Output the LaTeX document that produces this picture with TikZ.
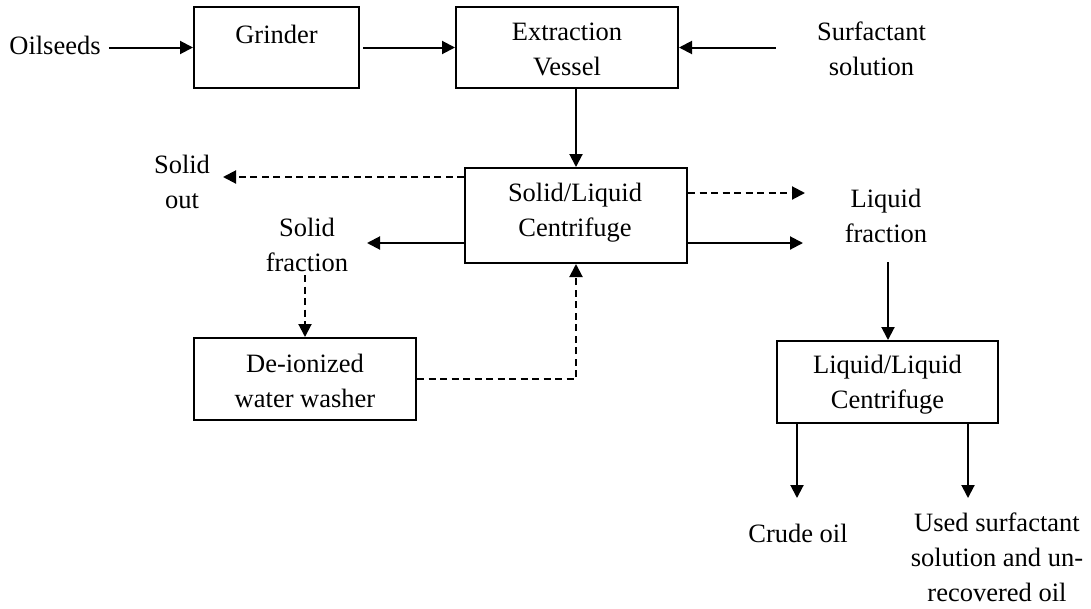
\documentclass[tikz,border=0pt]{standalone}
\usepackage{fontspec}
\setmainfont{Liberation Serif}
\usetikzlibrary{arrows.meta}
\begin{document}
\begin{tikzpicture}[x=1pt,y=-1pt,
  stepbox/.style={draw,line width=2pt,inner sep=0pt},
  lbl/.style={font=\fontsize{26.5}{35}\selectfont,align=center,inner sep=0pt},
  flow/.style={line width=2pt,-{Triangle[length=13pt,width=13pt]}},
  dflow/.style={flow,dash pattern=on 7pt off 4.5pt}]
\useasboundingbox (0,0) rectangle (1091,608);

% boxes
\node[stepbox,minimum width=165pt,minimum height=81pt] (grinder) at (276.5,47.5) {};
\node[lbl] (grinderT) at (276.5,34) {Grinder};
\node[stepbox,minimum width=222pt,minimum height=81pt] (ev) at (567,47.5) {};
\node[lbl] (evT) at (567,49.5) {Extraction\\Vessel};
\node[stepbox,minimum width=222pt,minimum height=95pt] (slc) at (576,215.5) {};
\node[lbl] (slcT) at (575,213) {Solid/Liquid\\Centrifuge};
\node[stepbox,minimum width=222pt,minimum height=82pt] (diw) at (305,379) {};
\node[lbl] (diwT) at (305,381) {De-ionized\\water washer};
\node[stepbox,minimum width=221pt,minimum height=82pt] (llc) at (887.5,382) {};
\node[lbl] (llcT) at (887.5,385) {Liquid/Liquid\\Centrifuge};

% free labels
\node[lbl] (oil) at (55,45) {Oilseeds};
\node[lbl] (surf) at (871.5,48.5) {Surfactant\\solution};
\node[lbl] (solidout) at (182,182) {Solid\\out};
\node[lbl] (solidfrac) at (307,245) {Solid\\fraction};
\node[lbl] (liqfrac) at (886,215.5) {Liquid\\fraction};
\node[lbl] (crude) at (798,533) {Crude oil};
\node[lbl] (used) at (997,557) {Used surfactant\\solution and un-\\recovered oil};

% free arrow ends
\coordinate (soEnd) at (223,177);
\coordinate (sfEnd) at (367,243);
\coordinate (lfDash) at (805,193);
\coordinate (lfEnd) at (803,243);
\coordinate (lfOut) at (888,262);
\coordinate (sfOut) at (305,275);
\coordinate (crudeEnd) at (797,498);
\coordinate (usedEnd) at (968,498);

% connectors
\draw[flow,shorten <=8pt] (oil.east |- grinder.west) -- (grinder.west);
\draw[flow,shorten <=3pt] (grinder.east) -- (ev.west);
\draw[flow,shorten <=41pt] (surf.west |- ev.east) -- (ev.east);
\draw[flow] (ev.south -| slc.north) -- (slc.north);
\draw[dflow] (slc.west |- soEnd) -- (soEnd);
\draw[flow] (slc.west |- sfEnd) -- (sfEnd);
\draw[dflow] (slc.east |- lfDash) -- (lfDash);
\draw[flow] (slc.east |- lfEnd) -- (lfEnd);
\draw[flow] (lfOut) -- (llc.north -| lfOut);
\draw[dflow] (sfOut) -- (diw.north -| sfOut);
\draw[dflow] (diw.east) -| (slc.south);
\draw[flow] (llc.south -| crudeEnd) -- (crudeEnd);
\draw[flow] (llc.south -| usedEnd) -- (usedEnd);
\end{tikzpicture}
\end{document}
